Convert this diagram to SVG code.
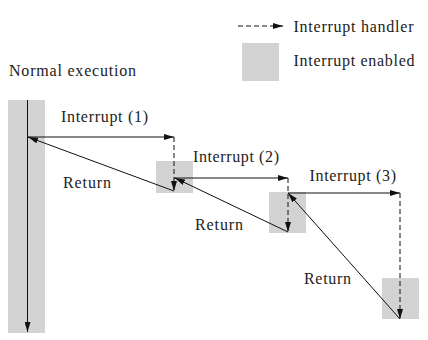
<svg xmlns="http://www.w3.org/2000/svg" width="428" height="340" viewBox="0 0 428 340">
<style>
.bg{fill:#d3d3d3}
.t{font-family:"Liberation Serif","Times New Roman",serif;font-size:16px;fill:#222}
.ln{stroke:#111;stroke-width:1;fill:none}
.ds{stroke:#111;stroke-width:1;fill:none;stroke-dasharray:5,3}
</style>
<defs>
<marker id="ah" markerUnits="userSpaceOnUse" markerWidth="10" markerHeight="6" refX="10" refY="3" orient="auto">
<path d="M0,0 L10,3 L0,6 Z" fill="#111" stroke="none"/>
</marker>
</defs>
<g id="legend">
<line class="ds" x1="238" y1="26" x2="283" y2="26" marker-end="url(#ah)"/>
<text class="t" x="293.5" y="32" textLength="120" lengthAdjust="spacing">Interrupt handler</text>
<rect class="bg" x="242" y="43" width="37" height="38"/>
<text class="t" x="293.5" y="66" textLength="121" lengthAdjust="spacing">Interrupt enabled</text>
</g>
<g id="main">
<text class="t" x="9" y="76" textLength="127" lengthAdjust="spacing">Normal execution</text>
<rect class="bg" x="8" y="100" width="37" height="233"/>
</g>
<g id="box1"><rect class="bg" x="156" y="161" width="37" height="32"/></g>
<g id="box2"><rect class="bg" x="269" y="192" width="37" height="41"/></g>
<g id="box3"><rect class="bg" x="382" y="278" width="37" height="41"/></g>
<g id="labels">
<text class="t" x="61" y="122" textLength="87" lengthAdjust="spacing">Interrupt (1)</text>
<text class="t" x="63" y="188" textLength="48" lengthAdjust="spacing">Return</text>
<text class="t" x="193" y="162" textLength="86" lengthAdjust="spacing">Interrupt (2)</text>
<text class="t" x="195" y="230" textLength="48" lengthAdjust="spacing">Return</text>
<text class="t" x="309.5" y="181" textLength="86.5" lengthAdjust="spacing">Interrupt (3)</text>
<text class="t" x="304" y="283.5" textLength="47" lengthAdjust="spacing">Return</text>
</g>
<g id="connectors">
<line class="ln" x1="27.5" y1="100" x2="27.5" y2="332" marker-end="url(#ah)"/>
<line class="ln" x1="28" y1="137" x2="174" y2="137" marker-end="url(#ah)"/>
<line class="ds" x1="174" y1="137" x2="174" y2="191" marker-end="url(#ah)"/>
<line class="ln" x1="174" y1="191" x2="28" y2="137" marker-end="url(#ah)"/>
<line class="ln" x1="174" y1="178" x2="288" y2="178" marker-end="url(#ah)"/>
<line class="ds" x1="288" y1="178" x2="288" y2="232" marker-end="url(#ah)"/>
<line class="ln" x1="288" y1="232" x2="175" y2="178" marker-end="url(#ah)"/>
<line class="ln" x1="288" y1="193" x2="400" y2="193" marker-end="url(#ah)"/>
<line class="ds" x1="400" y1="193" x2="400" y2="319" marker-end="url(#ah)"/>
<line class="ln" x1="400" y1="319" x2="288" y2="193" marker-end="url(#ah)"/>
</g>
</svg>
